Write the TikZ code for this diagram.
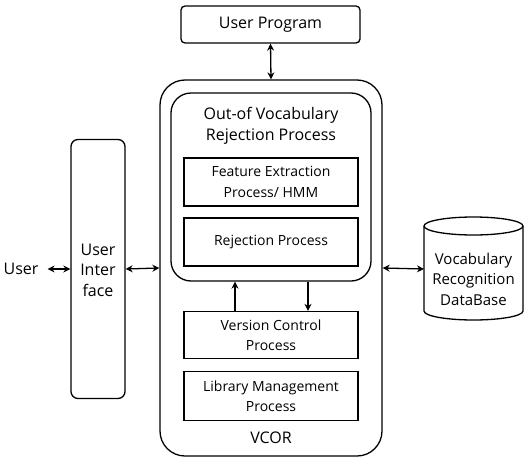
\documentclass[tikz,border=0pt]{standalone}
\usepackage{fontspec}
\setmainfont{Open Sans}
\usetikzlibrary{arrows.meta}
\begin{document}
\begin{tikzpicture}[x=1pt,y=-1pt,
  every node/.style={font=\fontsize{16}{20.5}\selectfont},
  box/.style={draw, line width=1.3pt, rectangle, inner sep=0pt, align=center},
  procbox/.style={box, minimum width=174pt, font=\fontsize{14}{20.5}\selectfont},
  label/.style={inner sep=0pt, align=center},
  link/.style={line width=1.3pt, {Stealth[length=7pt,width=7pt]}-{Stealth[length=7pt,width=7pt]}},
  oneway/.style={line width=1.3pt, -{Stealth[length=7pt,width=7pt]}}]
\useasboundingbox (0,0) rectangle (525,458);

% top-level program
\node[box, rounded corners=4pt, minimum width=179pt, minimum height=37pt] (prog) at (270.5,24.5) {User Program};

% VCOR container
\node[box, rounded corners=25pt, minimum width=222pt, minimum height=376pt] (vcor) at (271,268) {};
\node[label] (vcorlbl) at (271,438) {VCOR};

% out-of-vocabulary rejection group
\node[box, rounded corners=20pt, minimum width=200pt, minimum height=188pt] (oov) at (271,187) {};
\node[label] (oovlbl) at (271,126) {Out-of Vocabulary\\Rejection Process};
\node[procbox, minimum height=48pt] (feat) at (271,182) {Feature Extraction\\Process/ HMM};
\node[procbox, minimum height=48pt] (rej) at (271,242) {Rejection Process};

% lower processes
\node[procbox, minimum height=47pt] (ver) at (271,335) {Version Control\\Process};
\node[procbox, minimum height=49pt] (lib) at (271,396) {Library Management\\Process};

% user side
\node[label] (user) at (21,269) {User};
\node[box, rounded corners=7pt, minimum width=54pt, minimum height=259pt] (ui) at (98,269) {};
\node[label] (uilbl) at (98,270) {User\\Inter\\face};

% database cylinder
\draw[line width=1.3pt] (424,226) -- (424,311)
  arc[start angle=180, end angle=0, x radius=49.5, y radius=9] -- (523,226);
\draw[line width=1.3pt] (473.5,226) ellipse[x radius=49.5, y radius=9];
\node[label, minimum width=99pt, font=\fontsize{15}{20.5}\selectfont] (db) at (473.5,279) {Vocabulary\\Recognition\\DataBase};
\coordinate (dbw) at (424,269);

% connectors
\draw[link] (prog.south) -- (vcor.north);
\draw[link, shorten <=9pt] (user.east) -- (ui.west);
\draw[link] (ui.east) -- (vcor.west);
\draw[link] (vcor.east) -- (dbw);
\draw[oneway] ([xshift=-36pt]ver.north) -- ([xshift=-36pt]oov.south);
\draw[oneway] ([xshift=37pt]oov.south) -- ([xshift=37pt]ver.north);
\end{tikzpicture}
\end{document}
